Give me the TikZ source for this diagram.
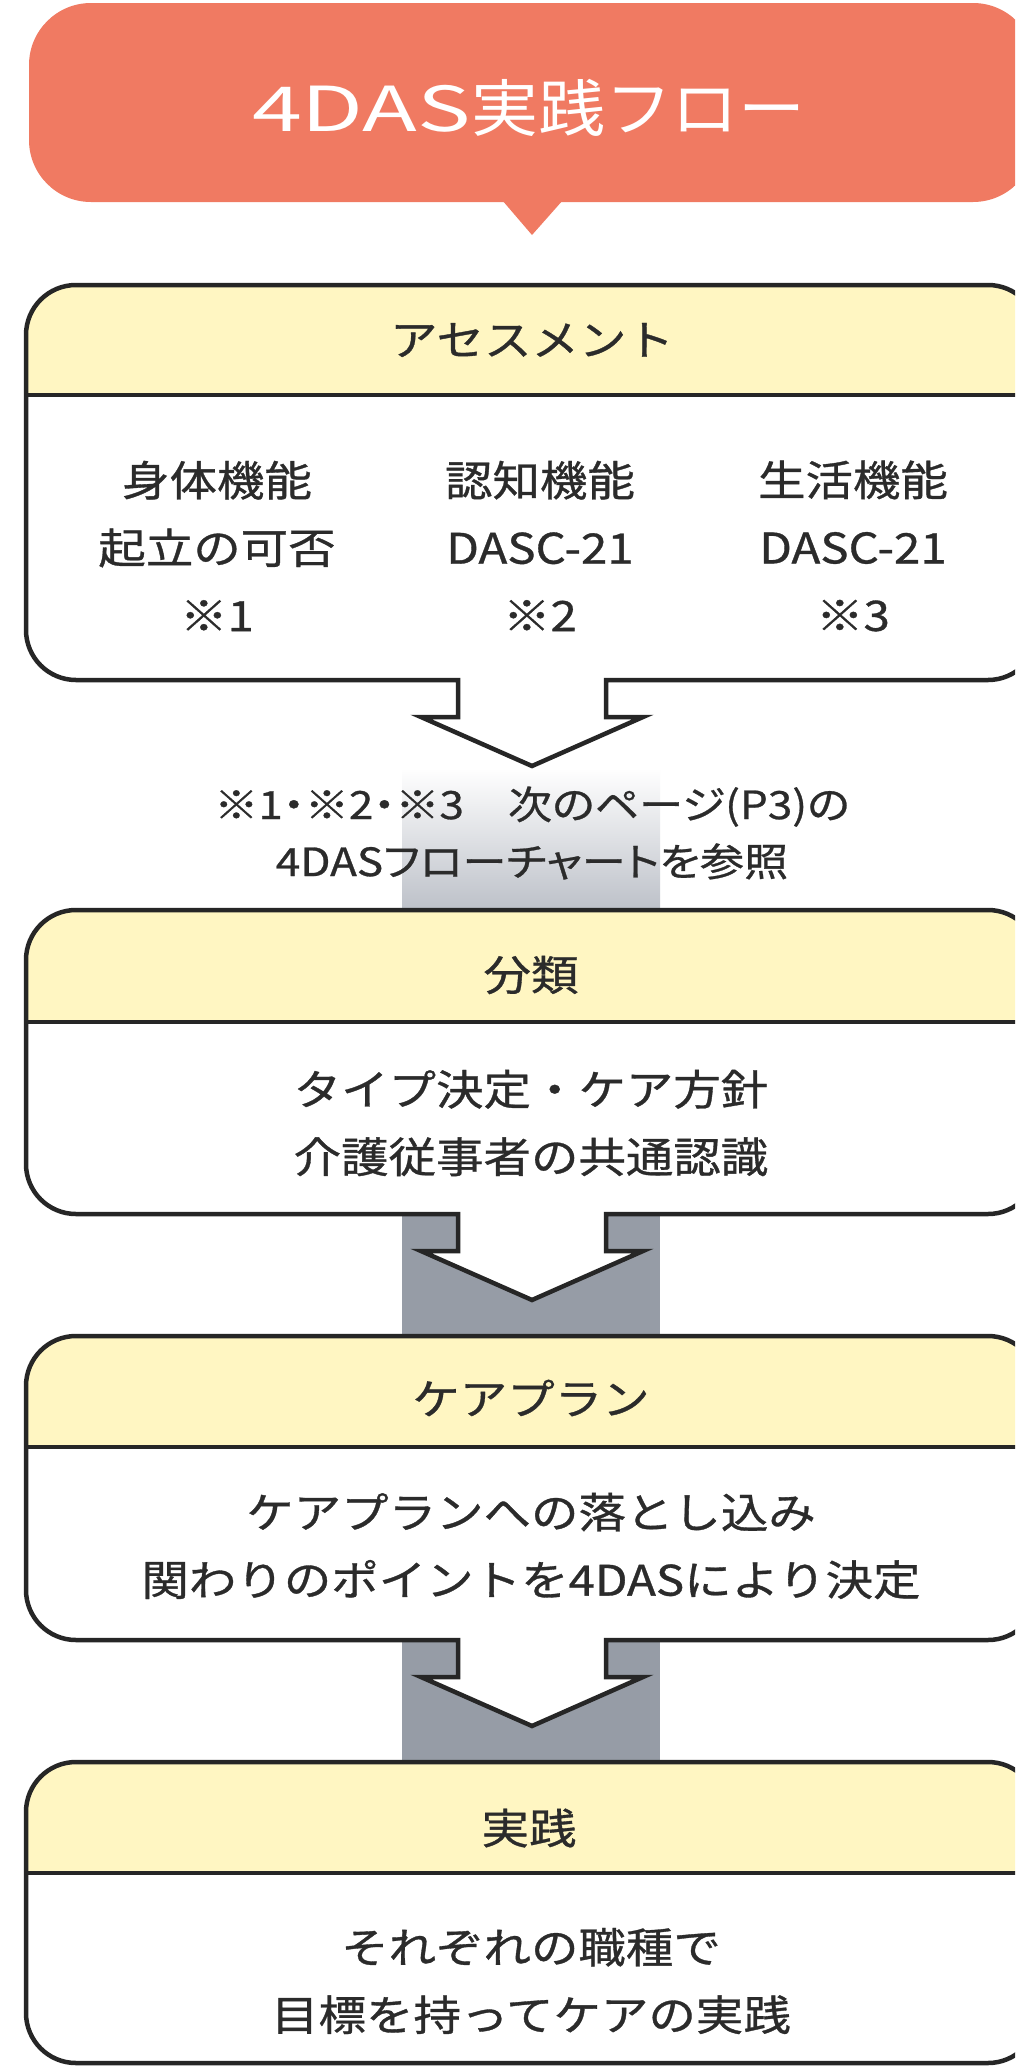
\documentclass[tikz,border=0pt]{standalone}
\usepackage{fontspec}
\newfontfamily\jp[FakeStretch=1.13,FakeBold=0.8]{Noto Sans CJK JP}
\newfontfamily\jpnote[FakeStretch=1.13,FakeBold=0.7,RawFeature=+palt]{Noto Sans CJK JP}
\newfontfamily\jptitle[FakeStretch=1.08]{Noto Sans CJK JP}
\newfontfamily\jptitlelat[FakeStretch=1.45]{Noto Sans CJK JP}
\definecolor{salmon}{HTML}{F07A62}
\definecolor{headfill}{HTML}{FFF6C2}
\definecolor{linecol}{HTML}{262626}
\definecolor{textcol}{HTML}{2B2B2B}
\definecolor{bandgray}{HTML}{969CA6}
\definecolor{gradgray}{HTML}{BCC0C8}
\tikzset{
  outline/.style={draw=linecol, line width=4.5pt, line join=miter},
  divline/.style={draw=linecol, line width=3.5pt},
  headtext/.style={text=textcol, font=\jp\fontsize{42}{50}\selectfont, inner sep=0pt},
  bodytext/.style={text=textcol, font=\jp\fontsize{42}{67.5}\selectfont, align=center, inner sep=0pt},
  notetext/.style={text=textcol, font=\jpnote\fontsize{39}{57}\selectfont, align=center, inner sep=0pt},
  titletext/.style={text=white, font=\fontsize{62}{70}\selectfont, inner sep=0pt},
}
% box outline with a hollow arrow below: #1 top, #2 bottom
\newcommand{\arrowpath}[2]{(26,{#1+50}) arc[start angle=180,end angle=270,radius=50] -- (988,#1) arc[start angle=270,end angle=360,radius=50] -- (1038,{#2-50}) arc[start angle=0,end angle=90,radius=50] -- (606,#2) -- (606,{#2+37}) -- (643,{#2+37}) -- (532,{#2+86}) -- (421,{#2+37}) -- (458,{#2+37}) -- (458,#2) -- (76,#2) arc[start angle=90,end angle=180,radius=50] -- cycle}
\newcommand{\plainpath}[2]{(26,{#1+50}) arc[start angle=180,end angle=270,radius=50] -- (988,#1) arc[start angle=270,end angle=360,radius=50] -- (1038,{#2-50}) arc[start angle=0,end angle=90,radius=50] -- (76,#2) arc[start angle=90,end angle=180,radius=50] -- cycle}
\newcommand{\headpath}[2]{(26,#2) -- (26,{#1+50}) arc[start angle=180,end angle=270,radius=50] -- (988,#1) arc[start angle=270,end angle=360,radius=50] -- (1038,#2) -- cycle}
% #1 top, #2 header divider, #3 bottom
\newcommand{\arrowbox}[3]{%
  \fill[white] \arrowpath{#1}{#3};
  \fill[headfill] \headpath{#1}{#2};
  \draw[divline] (26,#2) -- (1038,#2);
  \draw[outline] \arrowpath{#1}{#3};
}
\newcommand{\plainbox}[3]{%
  \fill[white] \plainpath{#1}{#3};
  \fill[headfill] \headpath{#1}{#2};
  \draw[divline] (26,#2) -- (1038,#2);
  \draw[outline] \plainpath{#1}{#3};
}
\begin{document}
\begin{tikzpicture}[x=1pt,y=-1pt]
\useasboundingbox (0,0) rectangle (1015,2067);
\clip (0,0) rectangle (1015,2067);
\fill[white] (0,0) rectangle (1015,2067);

% title bubble
\fill[salmon, rounded corners=62] (29,3) rectangle (1035,202);
\fill[salmon] (502,200) -- (532,235) -- (563,200) -- cycle;
\node[titletext] (title) at (529,108) {\jptitlelat 4DAS\jptitle 実践フロー};

% bands between boxes
\shade[top color=white, bottom color=gradgray] (402,768) rectangle (660,912);
\fill[bandgray] (402,1210) rectangle (660,1340);
\fill[bandgray] (402,1636) rectangle (660,1766);

% boxes
\arrowbox{285}{395}{680}
\arrowbox{910}{1022}{1214}
\arrowbox{1336}{1447}{1640}
\plainbox{1762}{1873}{2063}

% box 1
\node[headtext] (h1) at (532,340) {アセスメント};
\node[bodytext] (c1) at (217,546) {身体機能\\起立の可否\\※1};
\node[bodytext] (c2) at (540,546) {認知機能\\DASC-21\\※2};
\node[bodytext] (c3) at (853,546) {生活機能\\DASC-21\\※3};

% note
\node[notetext] (note) at (532,833) {※1・※2・※3　次のページ(P3)の\\4DASフローチャートを参照};

% box 2
\node[headtext] (h2) at (531,975) {分類};
\node[bodytext] (b2) at (531,1123) {タイプ決定・ケア方針\\介護従事者の共通認識};

% box 3
\node[headtext] (h3) at (531,1398) {ケアプラン};
\node[bodytext] (b3) at (531,1546) {ケアプランへの落とし込み\\関わりのポイントを4DASにより決定};

% box 4
\node[headtext] (h4) at (529,1828) {実践};
\node[bodytext] (b4) at (531,1981) {それぞれの職種で\\目標を持ってケアの実践};
\end{tikzpicture}
\end{document}
